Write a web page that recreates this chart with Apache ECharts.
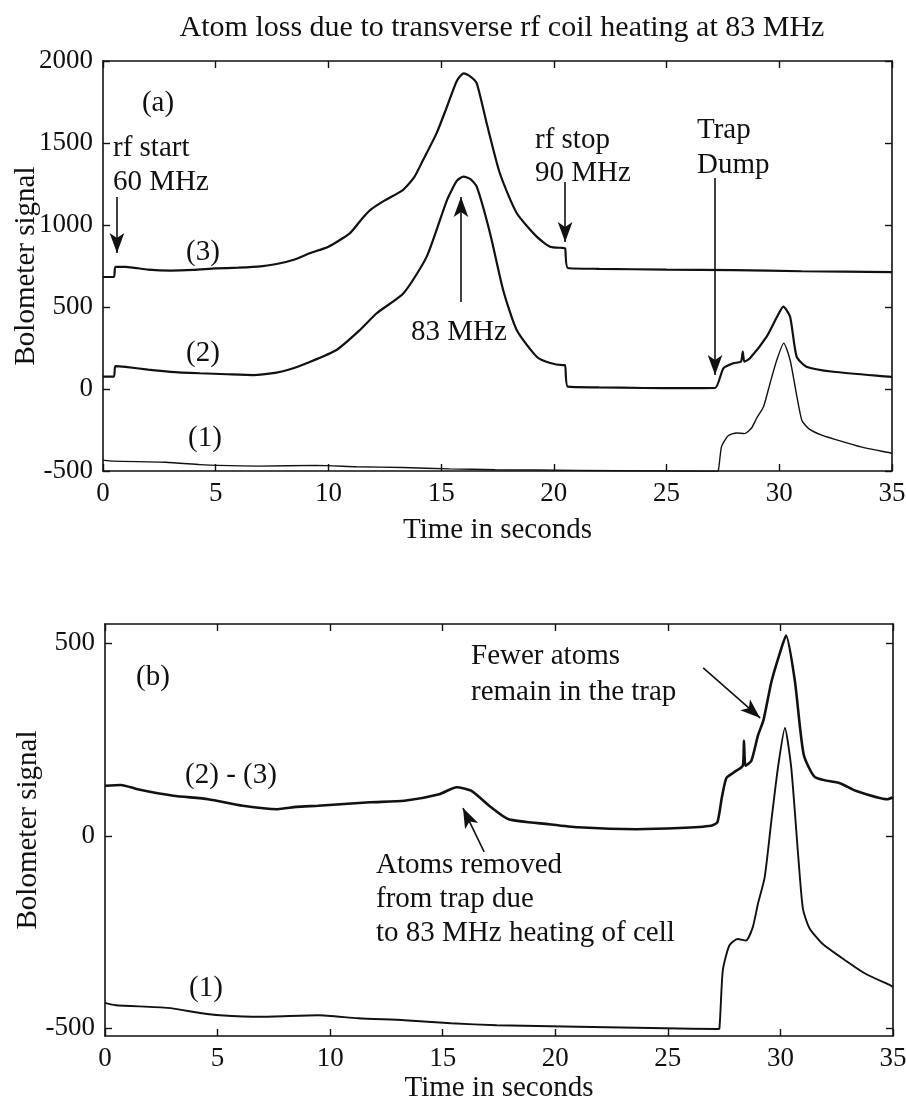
<!DOCTYPE html>
<html>
<head>
<meta charset="utf-8">
<script src="https://cdn.jsdelivr.net/npm/echarts@6/dist/echarts.min.js"></script>
<style>
html,body{margin:0;padding:0;background:#fff;}
#chart{width:906px;height:1104px;}
</style>
</head>
<body>
<div id="chart"></div>
<script>
// ---- Data (time in seconds, bolometer signal) ----
const xTicks = [0, 5, 10, 15, 20, 25, 30, 35];
const yTicksTop = [-500, 0, 500, 1000, 1500, 2000];
const yTicksBottom = [-500, 0, 500];

// Curve (3), panel (a)
const curve3 = [[0,683],[0.48,683],[0.55,745],[1,745],[2,728],[3,722],[4,726],[5,735],[6,740],[7,748],[7.7,762],[8.5,790],[9.2,829],[10,868],[10.96,951],[11.5,1040],[11.85,1091],[12.5,1150],[13.3,1213],[13.8,1290],[14.2,1396],[14.8,1560],[15.26,1722],[15.7,1880],[16.0,1925],[16.3,1905],[16.58,1864],[17.02,1620],[17.6,1317],[18.35,1073],[19.24,929],[19.83,868],[20.4,860],[20.5,858],[20.62,738],[22,733],[25,728],[28,725],[31,718],[35,713]];

// Curve (2), panel (a)
const curve2 = [[0,75],[0.48,75],[0.55,140],[1,135],[2,118],[3,105],[4.3,96],[5.5,90],[6.67,85],[7.7,100],[8.3,120],[9.03,157],[10.36,238],[11.4,360],[12.14,462],[13.33,584],[14.36,807],[15.26,1152],[15.7,1270],[15.99,1295],[16.3,1280],[16.58,1234],[17.17,950],[17.75,604],[18.35,360],[19.24,197],[19.8,160],[20.4,146],[20.5,146],[20.62,14],[22,10],[24,6],[26,5],[27.15,6],[27.52,126],[27.96,157],[28.3,167],[28.38,228],[28.45,167],[28.7,187],[29.44,319],[29.9,440],[30.18,502],[30.48,441],[30.77,197],[31.2,136],[32.4,105],[34.9,75],[35,74]];

// Curve (1), both panels
const curve1 = [[0,-434],[0.47,-440],[2.78,-447],[4.3,-461],[5.1,-466],[6.9,-470],[9.46,-466],[11.25,-474],[13.3,-479],[15.37,-487],[17.4,-492],[21,-496],[24.9,-500],[27.18,-502],[27.29,-500],[27.44,-350],[27.73,-285],[28.1,-268],[28.47,-272],[28.77,-238],[29.0,-177],[29.3,-108],[29.6,40],[29.89,177],[30.2,280],[30.48,177],[30.8,-60],[31.0,-190],[31.29,-240],[31.88,-281],[32.92,-325],[33.8,-359],[34.9,-389],[35,-392]];

// Difference (2) - (3), panel (b)
const diff23 = [[0,130],[0.7,132],[1.5,120],[3.04,104],[4.58,95],[6.12,78],[7.66,69],[8.5,75],[9.46,78],[11.77,87],[13.3,91],[14.85,108],[15.62,126],[16.26,117],[17.15,74],[17.93,43],[19.72,30],[21.0,22],[23.6,17],[25.5,20],[26.92,26],[27.2,35],[27.4,100],[27.6,150],[27.94,165],[28.33,182],[28.38,247],[28.45,182],[28.71,195],[29.0,260],[29.25,301],[29.6,400],[29.95,470],[30.25,520],[30.64,403],[31.03,212],[31.54,152],[32.67,136],[33.34,117],[34.75,95],[35,100]];

// ---- Chart ----
const FONT = '"Liberation Serif", "Times New Roman", serif';
const INK = '#111';
const chart = echarts.init(document.getElementById('chart'), null, {renderer: 'canvas'});

function xAx(grid, pos, showLabel, name, nameGap) {
  return {
    type: 'value', gridIndex: grid, position: pos, min: 0, max: 35, interval: 5,
    axisLine: {show: true, onZero: false, lineStyle: {color: INK, width: 1.6}},
    axisTick: {show: true, inside: true, length: 7, lineStyle: {color: INK, width: 1.4}},
    axisLabel: {show: showLabel, fontFamily: FONT, fontSize: 27, color: INK, margin: 9,
      formatter: v => String(v)},
    splitLine: {show: false},
    name: name || '', nameLocation: 'middle', nameGap: nameGap || 0, nameMoveOverlap: false,
    nameTextStyle: {fontFamily: FONT, fontSize: 29, color: INK}
  };
}
function yAx(grid, pos, showLabel, min, max, ticks, name) {
  return {
    type: 'value', gridIndex: grid, position: pos, min: min, max: max,
    axisLine: {show: true, onZero: false, lineStyle: {color: INK, width: 1.6}},
    axisTick: {show: true, inside: true, length: 7, customValues: ticks, lineStyle: {color: INK, width: 1.4}},
    axisLabel: {show: showLabel, customValues: ticks, fontFamily: FONT, fontSize: 27, color: INK, margin: 10,
      formatter: v => String(v)},
    splitLine: {show: false},
    name: name || '', nameLocation: 'middle', nameGap: 62, nameRotate: 90, nameMoveOverlap: false,
    nameTextStyle: {fontFamily: FONT, fontSize: 29, color: INK}
  };
}
function arrow(from, to) {
  return [{coord: from, symbol: 'none'}, {coord: to, symbol: 'arrow', symbolSize: [11, 20]}];
}
const mlBase = {
  silent: true, animation: false,
  label: {show: false},
  lineStyle: {color: INK, width: 1.6, type: 'solid'},
  emphasis: {disabled: true}
};
const lineBase = {type: 'line', showSymbol: false, smooth: 0.2};

function txt(x, y, s, align) {
  return {type: 'text', x: x, y: y, silent: true,
    style: {text: s, font: '29px ' + FONT, fill: INK,
      textAlign: align || 'left', textVerticalAlign: 'middle',
      align: align || 'left', verticalAlign: 'middle'}};
}

const option = {
  animation: false,
  backgroundColor: '#fff',
  title: {
    text: 'Atom loss due to transverse rf coil heating at 83 MHz',
    left: 497, top: 8, textAlign: 'center',
    textStyle: {fontFamily: FONT, fontSize: 30, fontWeight: 'normal', color: INK}
  },
  grid: [
    {left: 103, right: 14, top: 61, height: 410, containLabel: false, outerBoundsMode: 'none'},
    {left: 105, right: 13, top: 624, height: 412, containLabel: false, outerBoundsMode: 'none'}
  ],
  xAxis: [
    xAx(0, 'bottom', true, 'Time in seconds', 45),
    xAx(0, 'top', false),
    xAx(1, 'bottom', true, 'Time in seconds', 38),
    xAx(1, 'top', false)
  ],
  yAxis: [
    yAx(0, 'left', true, -500, 2000, yTicksTop, 'Bolometer signal'),
    yAx(0, 'right', false, -500, 2000, yTicksTop),
    yAx(1, 'left', true, -520, 550, yTicksBottom, 'Bolometer signal'),
    yAx(1, 'right', false, -520, 550, yTicksBottom)
  ],
  series: [
    Object.assign({}, lineBase, {name: '(3)', xAxisIndex: 0, yAxisIndex: 0, data: curve3,
      lineStyle: {color: INK, width: 2.2},
      markLine: Object.assign({}, mlBase, {data: [
        arrow([0.62, 1171], [0.62, 829]),
        arrow([20.5, 1262], [20.5, 896])
      ]})}),
    Object.assign({}, lineBase, {name: '(2)', xAxisIndex: 0, yAxisIndex: 0, data: curve2,
      lineStyle: {color: INK, width: 2.2},
      markLine: Object.assign({}, mlBase, {data: [
        arrow([15.88, 530], [15.88, 1171]),
        arrow([27.15, 1287], [27.15, 85])
      ]})}),
    Object.assign({}, lineBase, {name: '(1)', xAxisIndex: 0, yAxisIndex: 0, data: curve1,
      lineStyle: {color: INK, width: 1.4}}),
    Object.assign({}, lineBase, {name: '(2) - (3)', xAxisIndex: 2, yAxisIndex: 2, data: diff23,
      lineStyle: {color: INK, width: 2.6},
      markLine: Object.assign({}, mlBase, {data: [
        arrow([26.57, 436], [29.1, 306]),
        arrow([16.84, -42], [15.9, 72])
      ]})}),
    Object.assign({}, lineBase, {name: '(1) b', xAxisIndex: 2, yAxisIndex: 2, data: curve1,
      lineStyle: {color: INK, width: 1.9}})
  ],
  graphic: [
    txt(158, 103, '(a)', 'center'),
    txt(113, 148, 'rf start'),
    txt(113, 182, '60 MHz'),
    txt(203, 252, '(3)', 'center'),
    txt(203, 353, '(2)', 'center'),
    txt(205, 438, '(1)', 'center'),
    txt(459, 332, '83 MHz', 'center'),
    txt(535, 140, 'rf stop'),
    txt(535, 173, '90 MHz'),
    txt(697, 130, 'Trap'),
    txt(697, 165, 'Dump'),
    txt(153, 677, '(b)', 'center'),
    txt(231, 775, '(2) - (3)', 'center'),
    txt(206, 988, '(1)', 'center'),
    txt(471, 656, 'Fewer atoms'),
    txt(471, 692, 'remain in the trap'),
    txt(376, 865, 'Atoms removed'),
    txt(376, 899, 'from trap due'),
    txt(376, 933, 'to 83 MHz heating of cell')
  ]
};
chart.setOption(option);
</script>
</body>
</html>
